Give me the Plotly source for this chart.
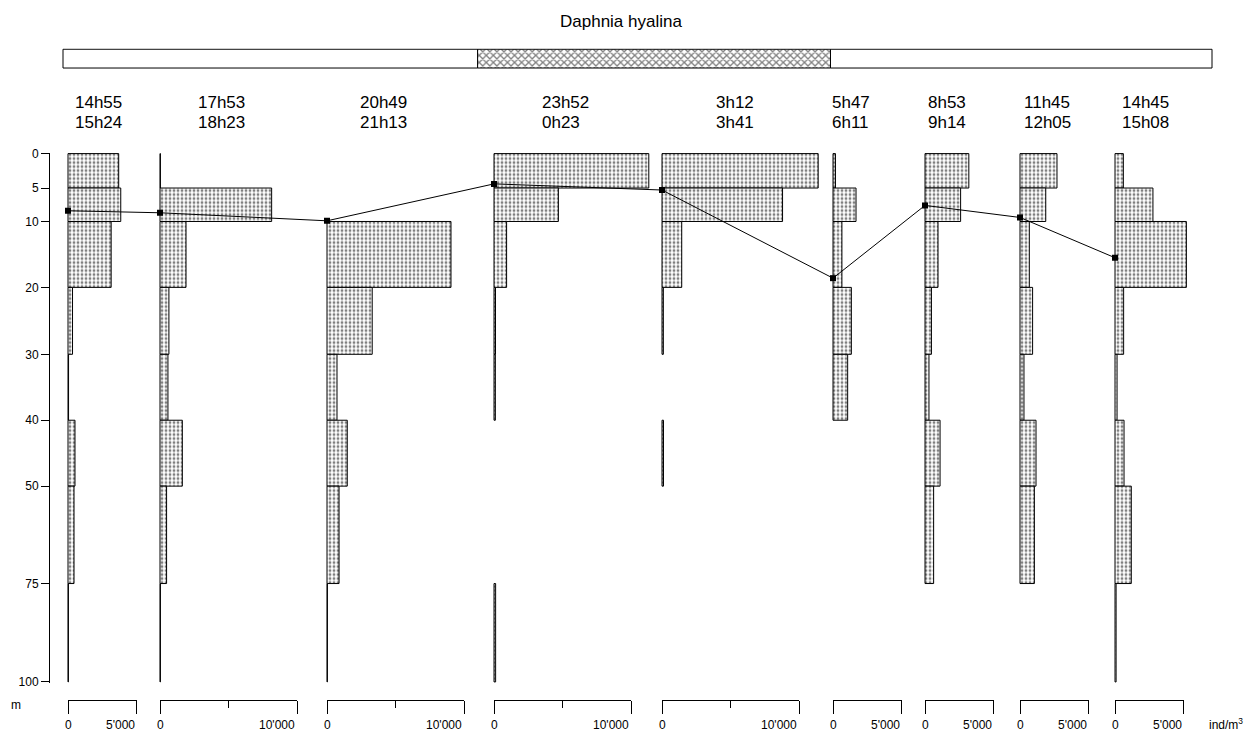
import numpy as np
import plotly.graph_objects as go

# ---------------- data ----------------
title_text = "Daphnia hyalina"
start_times = ["14h55", "17h53", "20h49", "23h52", "3h12", "5h47", "8h53", "11h45", "14h45"]
end_times = ["15h24", "18h23", "21h13", "0h23", "3h41", "6h11", "9h14", "12h05", "15h08"]

layer_top = [0, 5, 10, 20, 30, 40, 50, 75]
layer_bottom = [5, 10, 20, 30, 40, 50, 75, 100]

# abundance per layer (ind/m3); None = no catch drawn
s1 = [3700, 3850, 3150, 330, 40, 510, 440, 30]
s2 = [30, 8150, 1900, 650, 580, 1630, 480, 30]
s3 = [None, None, 9050, 3300, 730, 1480, 880, 30]
s4 = [11300, 4700, 920, 110, 100, None, None, 120]
s5 = [11400, 8800, 1440, 100, None, 110, None, None]
s6 = [180, 1680, 650, 1340, 1070, None, None, None]
s7 = [3200, 2600, 950, 470, 290, 1100, 630, None]
s8 = [2700, 1880, 680, 920, 290, 1170, 1050, None]
s9 = [610, 2770, 5210, 630, 150, 660, 1190, 80]
series = [s1, s2, s3, s4, s5, s6, s7, s8, s9]

mean_depth = [8.4, 8.7, 9.9, 4.4, 5.3, 18.6, 7.6, 9.4, 15.5]

scale_max = [5000, 10000, 10000, 10000, 10000, 5000, 5000, 5000, 5000]
scale_max_labels = ["5'000", "10'000", "10'000", "10'000", "10'000", "5'000", "5'000", "5'000", "5'000"]

depth_ticks = [0, 5, 10, 20, 30, 40, 50, 75, 100]
depth_tick_labels = ["0", "5", "10", "20", "30", "40", "50", "75", "100"]

# day / night bar (hours, continuing past midnight)
bar_start_h = 12.0
dusk_h = 21.4
dawn_h = 29.4
bar_end_h = 38.05

# ---------------- layout geometry ----------------
W, H = 1247, 745
FONT = "Liberation Sans, Arial, sans-serif"
px_per_unit = 0.0137                      # horizontal scale of all panels
panel_zero_px = [68, 160, 327, 494, 662, 833, 925, 1020, 1115]
depth_px = [0, 35, 69, 136, 204, 271, 338, 437, 537]   # non-linear depth scale
plot_top_px = 150
yaxis_px = 49
bracket_y_px = 705
header_left_px = [73, 196, 358, 540, 714, 830, 926, 1022, 1120]


def ymap(d):
    return np.interp(d, depth_ticks, depth_px)


offsets = [z / px_per_unit for z in panel_zero_px]

fig = go.Figure()

stipple = dict(color="white", line=dict(color="black", width=1),
               pattern=dict(shape=".", fgcolor="black", bgcolor="white", size=4, solidity=0.4))

for i, vals in enumerate(series):
    ys, ws, xs = [], [], []
    for t, b, v in zip(layer_top, layer_bottom, vals):
        if v is None:
            continue
        ys.append((ymap(t) + ymap(b)) / 2)
        ws.append(ymap(b) - ymap(t))
        xs.append(v)
    fig.add_trace(go.Bar(orientation="h", x=xs, y=ys, width=ws, base=offsets[i],
                         marker=stipple, xaxis="x", yaxis="y", showlegend=False,
                         hoverinfo="skip"))

# weighted mean depth line
fig.add_trace(go.Scatter(x=offsets, y=[ymap(d) for d in mean_depth], mode="lines+markers",
                         line=dict(color="black", width=1),
                         marker=dict(symbol="square", size=6, color="black"),
                         xaxis="x", yaxis="y", showlegend=False, hoverinfo="skip"))

# scale brackets (one axis per panel)
layout_axes = {}
annotations = []
for i in range(9):
    name = "xaxis%d" % (i + 2)
    ref = "x%d" % (i + 2)
    z = panel_zero_px[i]
    ax = dict(domain=[z / W, (z + scale_max[i] * px_per_unit) / W],
              range=[0, scale_max[i]], anchor="free", position=1 - bracket_y_px / H,
              side="bottom", showline=True, linecolor="black", linewidth=1,
              ticks="outside", ticklen=13, tickwidth=1, tickcolor="black",
              tickvals=[0, scale_max[i]], showticklabels=False,
              showgrid=False, zeroline=False, fixedrange=True)
    if scale_max[i] == 10000:
        ax["minor"] = dict(tickvals=[5000], ticks="outside", ticklen=7,
                           tickcolor="black", tickwidth=1, showgrid=False)
    layout_axes[name] = ax
    fig.add_trace(go.Scatter(x=[0, scale_max[i]], y=[None, None], mode="lines",
                             xaxis=ref, yaxis="y", showlegend=False, hoverinfo="skip"))
    annotations.append(dict(x=0, xref=ref, y=1 - 731 / H, yref="paper", text="0",
                            showarrow=False, xanchor="center", yanchor="middle",
                            font=dict(size=12, family=FONT, color="black")))
    annotations.append(dict(x=scale_max[i], xref=ref, y=1 - 731 / H, yref="paper",
                            text=scale_max_labels[i], showarrow=False, xanchor="right",
                            yanchor="middle", font=dict(size=12, family=FONT, color="black")))

# day/night bar
bar_px0, bar_px1 = 63, 1212
hpp = (bar_end_h - bar_start_h) / (bar_px1 - bar_px0)
layout_axes["xaxis11"] = dict(domain=[(bar_px0 - 1) / W, (bar_px1 + 1) / W],
                              range=[bar_start_h - hpp, bar_end_h + hpp],
                              anchor="y2", visible=False, fixedrange=True)
layout_axes["yaxis2"] = dict(domain=[1 - 64 / H, 1 - 43 / H], range=[-0.55, 0.55],
                             anchor="x11", visible=False, fixedrange=True)
plain = dict(color="white", line=dict(color="black", width=1))
fig.add_trace(go.Bar(orientation="h", y=[0, 0], x=[dusk_h - bar_start_h, bar_end_h - dawn_h],
                     base=[bar_start_h, dawn_h], width=1, marker=plain,
                     xaxis="x11", yaxis="y2", showlegend=False, hoverinfo="skip"))
fig.add_trace(go.Bar(orientation="h", y=[0], x=[dawn_h - dusk_h], base=[dusk_h], width=1,
                     marker=dict(color="white", line=dict(color="black", width=1),
                                 pattern=dict(shape="x", fgcolor="black", bgcolor="white",
                                              size=5, solidity=0.45)),
                     xaxis="x11", yaxis="y2", showlegend=False, hoverinfo="skip"))

# header annotations
for i in range(9):
    annotations.append(dict(x=header_left_px[i] / W, y=1 - 98 / H, xref="paper", yref="paper",
                            text=start_times[i], showarrow=False, xanchor="left", yanchor="middle",
                            font=dict(size=17, family=FONT, color="black")))
    annotations.append(dict(x=header_left_px[i] / W, y=1 - 118 / H, xref="paper", yref="paper",
                            text=end_times[i], showarrow=False, xanchor="left", yanchor="middle",
                            font=dict(size=17, family=FONT, color="black")))

annotations.append(dict(x=621 / W, y=1 - 16 / H, xref="paper", yref="paper", text=title_text,
                        showarrow=False, xanchor="center", yanchor="middle",
                        font=dict(size=17, family=FONT, color="black")))
annotations.append(dict(x=16 / W, y=1 - 710 / H, xref="paper", yref="paper", text="m",
                        showarrow=False, xanchor="center", yanchor="middle",
                        font=dict(size=12, family=FONT, color="black")))
annotations.append(dict(x=1207 / W, y=1 - 730 / H, xref="paper", yref="paper",
                        text="ind/m<sup>3</sup>", showarrow=False, xanchor="left",
                        yanchor="middle", font=dict(size=12, family=FONT, color="black")))

fig.update_layout(
    width=W, height=H, margin=dict(l=0, r=0, t=0, b=0),
    paper_bgcolor="white", plot_bgcolor="rgba(0,0,0,0)",
    barmode="overlay", showlegend=False,
    font=dict(family=FONT, color="black"),
    xaxis=dict(domain=[0, 1], range=[0, W / px_per_unit], anchor="y", visible=False,
               fixedrange=True),
    yaxis=dict(domain=[1 - (plot_top_px + depth_px[-1] + 1) / H, 1 - (plot_top_px - 1) / H],
               range=[depth_px[-1] + 1, -1], anchor="free", position=yaxis_px / W,
               tickvals=depth_px, ticktext=depth_tick_labels, ticks="outside", ticklen=8,
               tickcolor="black", showline=True, linecolor="black", linewidth=1,
               showgrid=False, zeroline=False, tickfont=dict(size=12, family=FONT),
               fixedrange=True),
    annotations=annotations,
    **layout_axes,
)

fig.write_html("out.html")
